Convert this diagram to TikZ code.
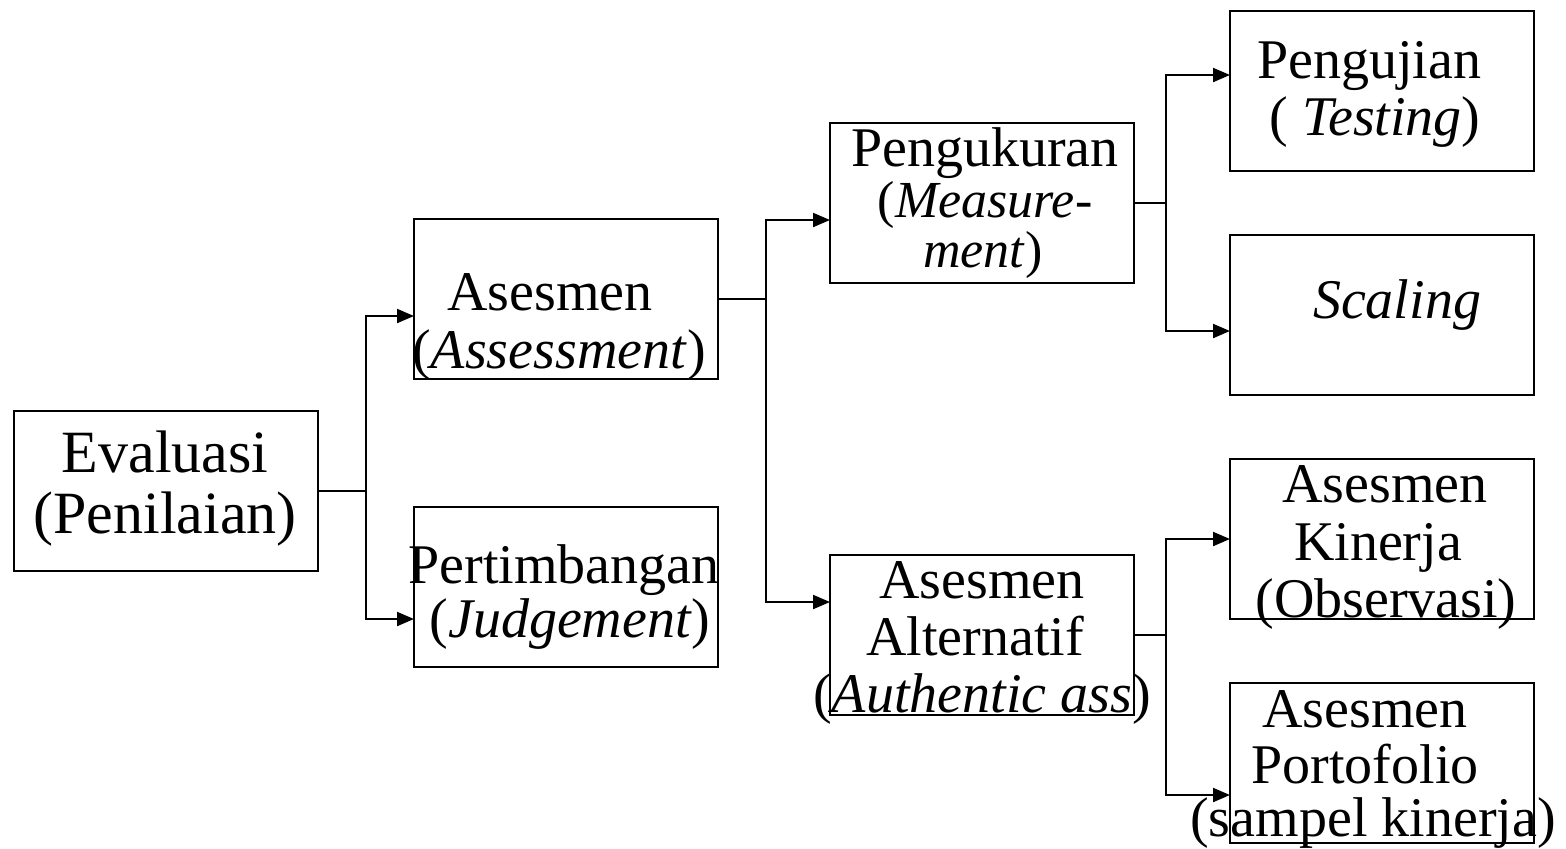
\documentclass[tikz,border=0pt]{standalone}
\usepackage{fontspec}
\setmainfont{Liberation Serif}
\usetikzlibrary{arrows.meta}
\begin{document}
\begin{tikzpicture}[x=0.5pt,y=-0.5pt,
  box/.style={draw,line width=1pt,minimum width=152pt,minimum height=80pt,inner sep=0pt,outer sep=0pt,anchor=north west},
  lbl/.style={anchor=base,inner sep=0pt,font=\fontsize{28}{30}\selectfont},
  midlbl/.style={lbl,font=\fontsize{26}{28}\selectfont},
  biglbl/.style={lbl,font=\fontsize{30}{32}\selectfont},
  conn/.style={line width=1pt},
  arr/.style={line width=1pt,-{Triangle[length=8.5pt,width=7pt]}}]
\useasboundingbox (0,0) rectangle (1566,848);
% boxes
\node[box] (eval) at (14,411) {};
\node[box] (ases) at (414,219) {};
\node[box] (pert) at (414,507) {};
\node[box] (peng) at (830,123) {};
\node[box] (alt)  at (830,555) {};
\node[box] (uji)  at (1230,11) {};
\node[box] (scal) at (1230,235) {};
\node[box] (kin)  at (1230,459) {};
\node[box] (port) at (1230,683) {};
% connectors
\draw[conn] (eval.east) -- ++(24pt,0) coordinate (j1);
\draw[arr] (j1) |- ([yshift=-8.5pt]ases.west);
\draw[arr] (j1) |- ([yshift=-16pt]pert.west);
\draw[conn] (ases.east) -- ++(24pt,0) coordinate (j2);
\draw[arr] (j2) |- ([yshift=-8.5pt]peng.west);
\draw[arr] (j2) |- ([yshift=16.5pt]alt.west);
\draw[conn] (peng.east) -- ++(16pt,0) coordinate (j3);
\draw[arr] (j3) |- ([yshift=8pt]uji.west);
\draw[arr] (j3) |- ([yshift=-8pt]scal.west);
\draw[conn] (alt.east) -- ++(16pt,0) coordinate (j4);
\draw[arr] (j4) |- (kin.west);
\draw[arr] (j4) |- ([yshift=-16pt]port.west);
% texts
\node[biglbl] (t1a) at (165,472) {Evaluasi};
\node[biglbl] (t1b) at (165,533) {(Penilaian)};
\node[lbl] (t2a) at (550,310) {Asesmen};
\node[lbl] (t2b) at (559,368) {(\textit{Assessment})};
\node[lbl] (t3a) at (564,583) {Pertimbangan};
\node[lbl] (t3b) at (570,637) {(\textit{Judgement})};
\node[lbl] (t4a) at (985,166) {Pengukuran};
\node[midlbl] (t4b) at (985,217) {(\textit{Measure-}};
\node[midlbl] (t4c) at (983,267) {\textit{ment})};
\node[lbl] (t5a) at (982,598) {Asesmen};
\node[lbl] (t5b) at (975,655) {Alternatif};
\node[lbl] (t5c) at (982,712) {(\textit{Authentic ass})};
\node[lbl] (t6a) at (1369,78) {Pengujian};
\node[lbl] (t6b) at (1375,135) {( \textit{Testing})};
\node[lbl] (t7a) at (1397,318) {\textit{Scaling}};
\node[lbl] (t8a) at (1385,502) {Asesmen};
\node[lbl] (t8b) at (1378,560) {Kinerja};
\node[lbl] (t8c) at (1386,617) {(Observasi)};
\node[lbl] (t9a) at (1365,727) {Asesmen};
\node[lbl] (t9b) at (1365,783) {Portofolio};
\node[lbl] (t9c) at (1373,836) {(sampel kinerja)};
\end{tikzpicture}
\end{document}
